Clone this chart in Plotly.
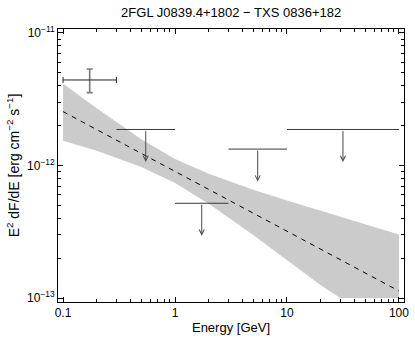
import numpy as np
import plotly.graph_objects as go

# butterfly (power-law fit uncertainty)
band_e = [0.1, 0.2, 0.5, 1, 2, 5, 10, 20, 30, 50, 100]
band_hi = [4.14e-12, 2.70e-12, 1.58e-12, 1.12e-12, 8.65e-13, 6.56e-13,
           5.45e-13, 4.55e-13, 4.14e-13, 3.59e-13, 3.01e-13]
band_lo = [1.54e-12, 1.29e-12, 9.75e-13, 7.38e-13, 5.15e-13, 2.99e-13,
           1.94e-13, 1.25e-13, 1.0e-13, 1.0e-13, 1.0e-13]

# best-fit power law
fit_e = [0.1, 100]
fit_f = [2.55e-12, 1.13e-13]

# detected point
pt_e = [0.173]
pt_e_lo = [0.1]
pt_e_hi = [0.3]
pt_f = [4.42e-12]
pt_f_lo = [3.55e-12]
pt_f_hi = [5.35e-12]

# upper limits
ul_e_lo = [0.3, 1, 3, 10]
ul_e_hi = [1, 3, 10, 100]
ul_f = [1.87e-12, 5.19e-13, 1.33e-12, 1.87e-12]

FONT = "Liberation Sans, Arial, sans-serif"

fig = go.Figure()

fig.add_trace(go.Scatter(
    x=band_e + band_e[::-1], y=band_hi + band_lo[::-1],
    fill="toself", fillcolor="#cbcbcb", line=dict(width=0),
    mode="lines", hoverinfo="skip"))

fig.add_trace(go.Scatter(
    x=fit_e, y=fit_f, mode="lines",
    line=dict(color="black", width=1, dash="5px,5px")))

# horizontal bars of the upper limits
ul_x, ul_y = [], []
for lo, hi, f in zip(ul_e_lo, ul_e_hi, ul_f):
    ul_x += [lo, hi, None]
    ul_y += [f, f, None]
fig.add_trace(go.Scatter(x=ul_x, y=ul_y, mode="lines",
                         line=dict(color="#3a3a3a", width=1)))

# arrows
for lo, hi, f in zip(ul_e_lo, ul_e_hi, ul_f):
    xc = (np.log10(lo) + np.log10(hi)) / 2
    fig.add_annotation(
        x=xc, y=np.log10(f) - 0.245, ax=xc, ay=np.log10(f),
        xref="x", yref="y", axref="x", ayref="y", text="",
        showarrow=True, arrowhead=5, arrowsize=1, arrowwidth=1,
        arrowcolor="#4a4a4a", standoff=0, startstandoff=0)

# detected point: black energy bar, grey flux bar
fig.add_trace(go.Scatter(
    x=pt_e, y=pt_f, mode="markers",
    marker=dict(size=1, color="rgba(0,0,0,0)"),
    error_x=dict(type="data", symmetric=False,
                 array=[h - e for h, e in zip(pt_e_hi, pt_e)],
                 arrayminus=[e - l for l, e in zip(pt_e_lo, pt_e)],
                 color="#222222", thickness=1, width=3),
    error_y=dict(type="data", symmetric=False,
                 array=[h - f for h, f in zip(pt_f_hi, pt_f)],
                 arrayminus=[f - l for l, f in zip(pt_f_lo, pt_f)],
                 color="#7a7a7a", thickness=1.6, width=3)))

minor_x = [m * 10.0 ** d for d in range(-2, 3) for m in range(2, 10)]
minor_y = [m * 10.0 ** d for d in range(-14, -10) for m in range(2, 10)]

fig.update_xaxes(
    type="log", range=[-1.045, 2.045], automargin=False,
    tickvals=[0.1, 1, 10, 100], ticktext=["0.1", "1", "10", "100"],
    ticks="inside", ticklen=5, tickcolor="black",
    minor=dict(tickvals=minor_x, ticks="inside", ticklen=3, tickcolor="black"),
    showline=True, linecolor="black", linewidth=1, mirror="allticks",
    showgrid=False, zeroline=False,
    title=dict(text="Energy [GeV]", standoff=3, font=dict(size=13)),
    tickfont=dict(size=12))

fig.update_yaxes(
    type="log", range=[-13.03, -10.97], automargin=False,
    tickvals=[1e-13, 1e-12, 1e-11],
    ticktext=["10<sup>−13</sup>", "10<sup>−12</sup>", "10<sup>−11</sup>"],
    ticks="inside", ticklen=5, tickcolor="black",
    minor=dict(tickvals=minor_y, ticks="inside", ticklen=3, tickcolor="black"),
    showline=True, linecolor="black", linewidth=1, mirror="allticks",
    showgrid=False, zeroline=False,
    title=dict(text="E<sup>2</sup> dF/dE [erg cm<sup>−2</sup> s<sup>−1</sup>]", standoff=4),
    tickfont=dict(size=12))

fig.update_layout(
    width=415, height=338,
    margin=dict(l=58, r=11, t=29, b=36),
    paper_bgcolor="white", plot_bgcolor="white",
    font=dict(family=FONT, size=12, color="black"),
    title=dict(text="2FGL J0839.4+1802 − TXS 0836+182", x=0.557, xanchor="center",
               y=0.962, yanchor="middle", font=dict(size=13)),
    showlegend=False)

fig.write_html("out.html", config={"displayModeBar": False},
               post_script="document.body.style.margin='0';")
